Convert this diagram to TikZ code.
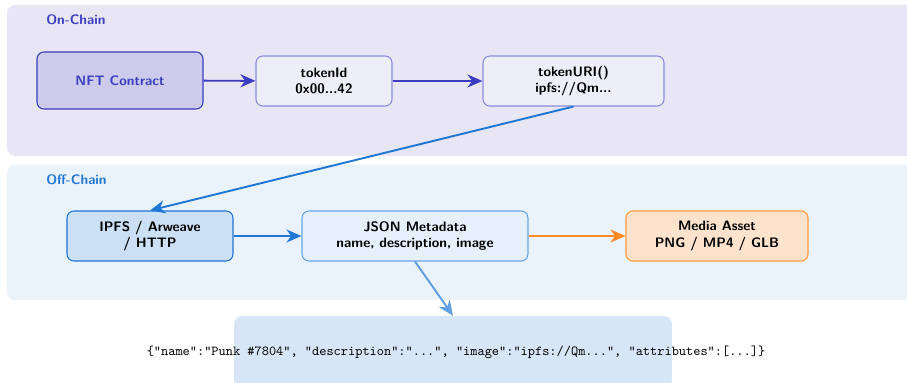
\documentclass[tikz,border=0pt]{standalone}
\usepackage{fontspec}
\usetikzlibrary{arrows.meta}

\definecolor{onpanel}{HTML}{E8E6F5}
\definecolor{offpanel}{HTML}{EAF2FB}
\definecolor{indigo}{HTML}{3C3CC0}
\definecolor{nftfill}{HTML}{CCCBEB}
\definecolor{lavfill}{HTML}{EEEEF9}
\definecolor{lavline}{HTML}{8A8AE0}
\definecolor{blueline}{HTML}{1F77D6}
\definecolor{ipfsfill}{HTML}{CBE0F4}
\definecolor{jsonfill}{HTML}{E5F0FB}
\definecolor{jsonline}{HTML}{66A6E8}
\definecolor{mediafill}{HTML}{FEE3CC}
\definecolor{medialine}{HTML}{FF9A3C}
\definecolor{orangearrow}{HTML}{FF8A1F}
\definecolor{softblue}{HTML}{5FA0E3}
\definecolor{codefill}{HTML}{D6E6F6}

\begin{document}
\begin{tikzpicture}[x=0.73pt, y=-0.73pt,
  font=\sffamily\bfseries,
  panellabel/.style={anchor=west, inner sep=0pt},
  box/.style={rounded corners=5pt, line width=0.8pt, align=center,
    minimum height={50*0.73pt}, inner sep=2pt, text=black},
  flow/.style={line width=1.4pt, -{Stealth[length=11pt, width=9.5pt, inset=3.5pt]}},
  codebox/.style={rounded corners=6pt, fill=codefill, minimum width={438*0.73pt},
    minimum height={72*0.73pt}, inner sep=0pt},
  codetext/.style={font=\ttfamily, inner sep=0pt}
]
\clip (0,0) rectangle (907,383);

% chain panels
\fill[onpanel, rounded corners=6pt] (7,5) rectangle (925,156);
\fill[offpanel, rounded corners=6pt] (7,165) rectangle (925,300);
\node[panellabel, text=indigo] (onlabel) at (46,20) {On-Chain};
\node[panellabel, text=blueline] (offlabel) at (46,180) {Off-Chain};

% on-chain nodes
\node[box, draw=indigo, fill=nftfill, text=indigo, minimum width={166*0.73pt},
  minimum height={57*0.73pt}] (nft) at (120,80.5) {NFT Contract};
\node[box, draw=lavline, fill=lavfill, minimum width={136*0.73pt}] (tid) at (324,81)
  {tokenId\\0x00...42};
\node[box, draw=lavline, fill=lavfill, minimum width={181*0.73pt}] (turi) at (573.5,81)
  {tokenURI()\\ipfs://Qm...};

% off-chain nodes
\node[box, draw=blueline, fill=ipfsfill, minimum width={166*0.73pt}] (ipfs) at (150,236)
  {IPFS / Arweave\\/ HTTP};
\node[box, draw=jsonline, fill=jsonfill, minimum width={226*0.73pt}] (json) at (415,236)
  {JSON Metadata\\name, description, image};
\node[box, draw=medialine, fill=mediafill, minimum width={182*0.73pt}] (media) at (717,236)
  {Media Asset\\PNG / MP4 / GLB};

% metadata sample
\node[codebox] (code) at (453,352) {};
\node[codetext] (codeline) at (456,352)
  {\{"name":"Punk \#7804", "description":"...", "image":"ipfs://Qm...", "attributes":[...]\}};

% connectors
\draw[flow, indigo] (nft) -- (tid);
\draw[flow, indigo] (tid) -- (turi);
\draw[flow, blueline] (turi.south) -- (ipfs.north);
\draw[flow, blueline] (ipfs) -- (json);
\draw[flow, orangearrow] (json) -- (media);
\draw[flow, softblue] (json.south) -- (code.north);
\end{tikzpicture}
\end{document}
